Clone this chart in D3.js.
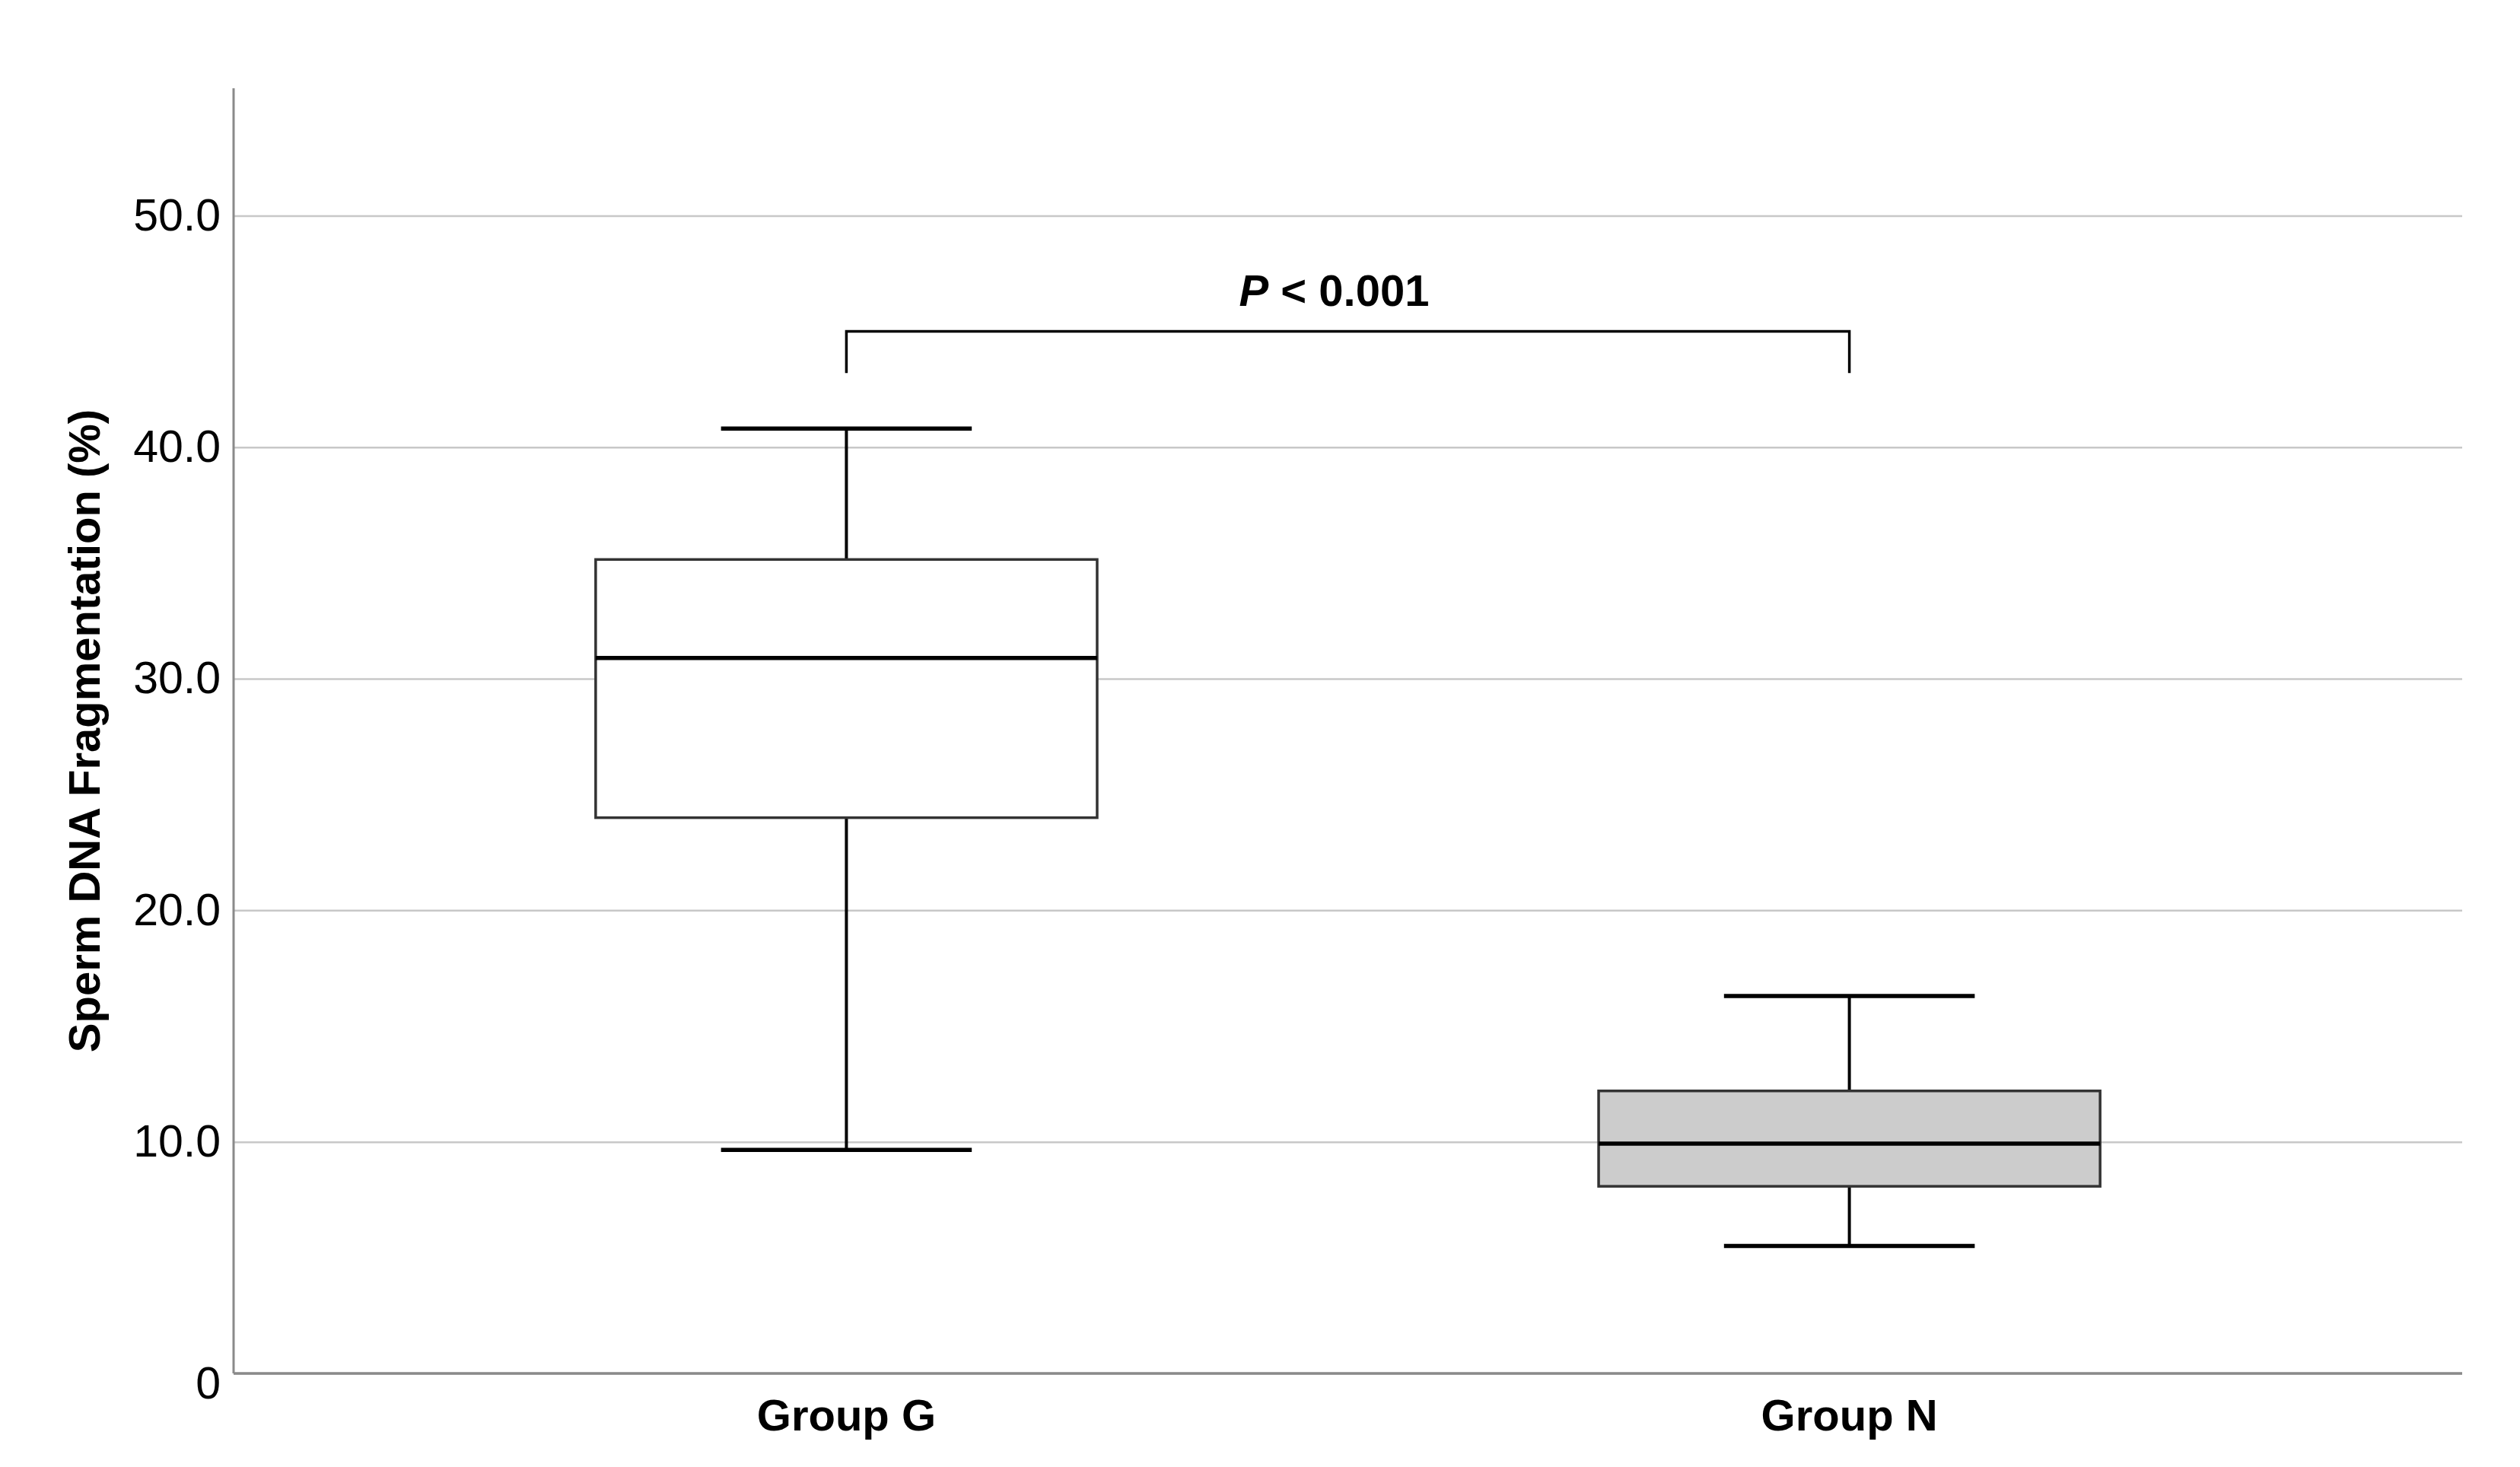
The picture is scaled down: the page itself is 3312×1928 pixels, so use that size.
<!DOCTYPE html>
<html>
<head>
<meta charset="utf-8">
<script src="https://cdn.jsdelivr.net/npm/d3@7"></script>
<style>
	body { margin: 0 ; background: white ; }
	svg { display: block ; }
</style>
</head>
<body>
<svg class="figure"></svg>
<script>
'use strict' ;

// box plot summary
let groups = [ "Group G", "Group N" ] ;
let whiskerLow = [ 9.65, 5.5 ] ;
let quartile1 = [ 24.0, 8.08 ] ;
let medians = [ 30.9, 9.92 ] ;
let quartile3 = [ 35.15, 12.2 ] ;
let whiskerHigh = [ 40.8, 16.3 ] ;
let boxFills = [ "#ffffff", "#cccccc" ] ;

let yTicks = [ 0, 10, 20, 30, 40, 50 ] ;
let yDomain = [ 0, 55.5 ] ;
let yTitle = "Sperm DNA Fragmentation (%)" ;

// significance bracket
let bracket = { from: "Group G", to: "Group N", y: 45.0, drop: 43.2, labelY: 46.1 } ;

let geom = {
	width: 3312,
	height: 1928,
	margin: { top: 116, right: 76, bottom: 123, left: 307 }
} ;

let font = "'Liberation Sans', Arial, sans-serif" ;

let svg = d3.select( "svg.figure" )
	.attr( "width", geom.width )
	.attr( "height", geom.height ) ;

let m = geom.margin ;
let plot = {
	left: m.left,
	right: geom.width - m.right,
	top: m.top,
	bottom: geom.height - m.bottom
} ;

let x = d3.scalePoint()
	.domain( groups )
	.range( [ plot.left, plot.right ] )
	.padding( 0.611 ) ;

let y = d3.scaleLinear()
	.domain( yDomain )
	.range( [ plot.bottom, plot.top ] ) ;

let step = x.step() ;
let boxWidth = step * 0.5 ;
let capWidth = step * 0.25 ;

// gridlines + tick labels
{
	let axis = svg.append( "g" )
		.attr( "class", "y axis" )
		.attr( "transform", "translate(" + plot.left + ",0)" )
		.call(
			d3.axisLeft( y )
				.tickValues( yTicks )
				.tickSize( -( plot.right - plot.left ))
				.tickPadding( 17 )
				.tickFormat( d => d === 0 ? "0" : d3.format( ".1f" )( d ))
		) ;
	axis.select( ".domain" ).remove() ;
	axis.selectAll( ".tick line" )
		.attr( "stroke", "#c8c8c8" )
		.attr( "stroke-width", 2.5 ) ;
	axis.selectAll( ".tick text" )
		.attr( "fill", "#000" )
		.attr( "font-family", font )
		.attr( "font-size", "59px" ) ;
	axis.selectAll( ".tick" )
		.filter( d => d === 0 )
		.select( "text" )
		.attr( "dy", "0.55em" ) ;
}

// axis lines
svg.append( "line" )
	.attr( "x1", plot.left ).attr( "x2", plot.left )
	.attr( "y1", plot.top ).attr( "y2", plot.bottom )
	.attr( "stroke", "#8a8a8a" )
	.attr( "stroke-width", 3 ) ;
svg.append( "line" )
	.attr( "x1", plot.left ).attr( "x2", plot.right )
	.attr( "y1", plot.bottom ).attr( "y2", plot.bottom )
	.attr( "stroke", "#8a8a8a" )
	.attr( "stroke-width", 3.5 ) ;

// group labels
svg.append( "g" )
	.attr( "class", "x labels" )
	.selectAll( "text" )
	.data( groups )
	.enter()
	.append( "text" )
	.attr( "x", d => x( d ))
	.attr( "y", plot.bottom + 75 )
	.attr( "text-anchor", "middle" )
	.attr( "font-family", font )
	.attr( "font-weight", "bold" )
	.attr( "font-size", "58px" )
	.text( d => d ) ;

// y title
svg.append( "text" )
	.attr( "transform", "translate(110," + (( plot.top + plot.bottom ) / 2 ) + ") rotate(-90)" )
	.attr( "text-anchor", "middle" )
	.attr( "dominant-baseline", "central" )
	.attr( "font-family", font )
	.attr( "font-weight", "bold" )
	.attr( "font-size", "58px" )
	.text( yTitle ) ;

// boxes
{
	let boxes = svg.selectAll( "g.box" )
		.data( groups.map( ( g, i ) => ({
			name: g,
			low: whiskerLow[i],
			q1: quartile1[i],
			median: medians[i],
			q3: quartile3[i],
			high: whiskerHigh[i],
			fill: boxFills[i]
		})))
		.enter()
		.append( "g" )
		.attr( "class", "box" )
		.attr( "transform", d => "translate(" + x( d.name ) + ",0)" ) ;

	// whisker stems
	boxes.append( "line" )
		.attr( "x1", 0 ).attr( "x2", 0 )
		.attr( "y1", d => y( d.high )).attr( "y2", d => y( d.q3 ))
		.attr( "stroke", "#000" ).attr( "stroke-width", 4 ) ;
	boxes.append( "line" )
		.attr( "x1", 0 ).attr( "x2", 0 )
		.attr( "y1", d => y( d.q1 )).attr( "y2", d => y( d.low ))
		.attr( "stroke", "#000" ).attr( "stroke-width", 4 ) ;

	// caps
	boxes.append( "line" )
		.attr( "x1", -capWidth / 2 ).attr( "x2", capWidth / 2 )
		.attr( "y1", d => y( d.high )).attr( "y2", d => y( d.high ))
		.attr( "stroke", "#000" ).attr( "stroke-width", 5.5 ) ;
	boxes.append( "line" )
		.attr( "x1", -capWidth / 2 ).attr( "x2", capWidth / 2 )
		.attr( "y1", d => y( d.low )).attr( "y2", d => y( d.low ))
		.attr( "stroke", "#000" ).attr( "stroke-width", 5.5 ) ;

	boxes.append( "rect" )
		.attr( "x", -boxWidth / 2 )
		.attr( "width", boxWidth )
		.attr( "y", d => y( d.q3 ))
		.attr( "height", d => y( d.q1 ) - y( d.q3 ))
		.attr( "fill", d => d.fill )
		.attr( "stroke", "#333" )
		.attr( "stroke-width", 3.5 ) ;

	boxes.append( "line" )
		.attr( "x1", -boxWidth / 2 ).attr( "x2", boxWidth / 2 )
		.attr( "y1", d => y( d.median )).attr( "y2", d => y( d.median ))
		.attr( "stroke", "#000" ).attr( "stroke-width", 5.5 ) ;
}

// significance bracket
{
	let x0 = x( bracket.from ) ;
	let x1 = x( bracket.to ) ;
	svg.append( "path" )
		.attr( "d", d3.line()( [
			[ x0, y( bracket.drop ) ],
			[ x0, y( bracket.y ) ],
			[ x1, y( bracket.y ) ],
			[ x1, y( bracket.drop ) ]
		] ))
		.attr( "fill", "none" )
		.attr( "stroke", "#000" )
		.attr( "stroke-width", 3.5 ) ;

	let label = svg.append( "text" )
		.attr( "x", ( x0 + x1 ) / 2 - 18 )
		.attr( "y", y( bracket.labelY ))
		.attr( "text-anchor", "middle" )
		.attr( "font-family", font )
		.attr( "font-weight", "bold" )
		.attr( "font-size", "58px" ) ;
	label.append( "tspan" )
		.attr( "font-style", "italic" )
		.text( "P" ) ;
	label.append( "tspan" )
		.text( " < 0.001" ) ;
}
</script>
</body>
</html>
